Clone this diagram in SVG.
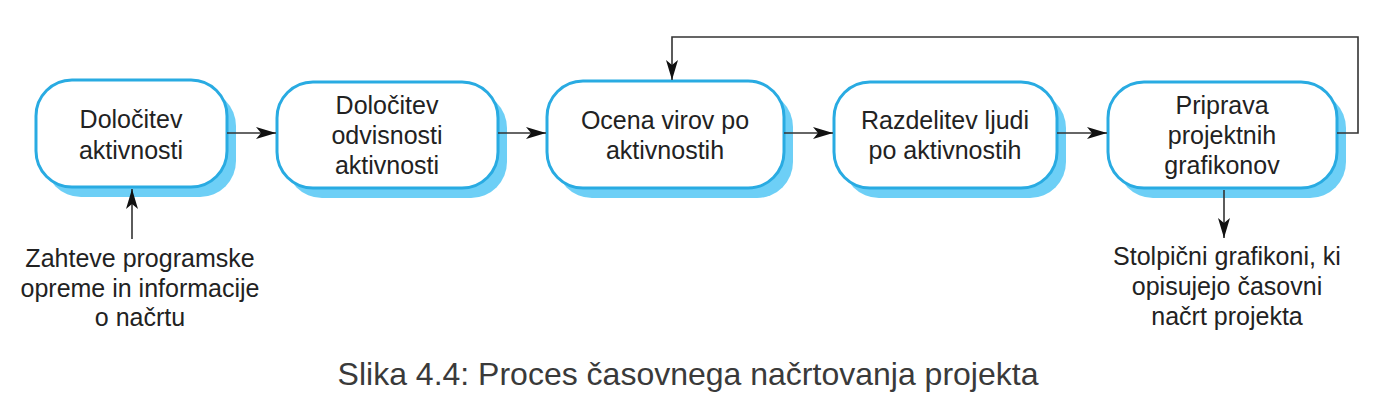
<svg xmlns="http://www.w3.org/2000/svg" width="1391" height="413" viewBox="0 0 1391 413">
<style>
.box{fill:#fff;stroke:#29abe2;stroke-width:3}
.sh{fill:#6dcff6}
.t{font-family:"Liberation Sans",Arial,sans-serif;font-size:25px;fill:#222;text-anchor:middle}
.c{fill:none;stroke:#333;stroke-width:1.6}
.cap{font-family:"Liberation Sans",Arial,sans-serif;font-size:32px;fill:#3a3a3a;text-anchor:middle}
</style>
<defs>
<marker id="ah" viewBox="0 0 20 12" refX="20" refY="6" markerWidth="20" markerHeight="12" markerUnits="userSpaceOnUse" orient="auto">
<path d="M0,0 L20,6 L0,12 L5,6 Z" fill="#111"/>
</marker>
</defs>
<g id="n1">
<rect class="sh" x="45" y="90" width="191" height="107" rx="36"/>
<rect class="box" x="36" y="80" width="191" height="107" rx="36"/>
<text class="t" x="131" y="128">Določitev</text>
<text class="t" x="131" y="159">aktivnosti</text>
</g>
<g id="n2">
<rect class="sh" x="286" y="92" width="221" height="106" rx="36"/>
<rect class="box" x="277" y="82" width="221" height="106" rx="36"/>
<text class="t" x="387" y="114">Določitev</text>
<text class="t" x="387" y="144">odvisnosti</text>
<text class="t" x="387" y="174">aktivnosti</text>
</g>
<g id="n3">
<rect class="sh" x="556" y="91" width="237" height="107" rx="36"/>
<rect class="box" x="547" y="81" width="237" height="107" rx="36"/>
<text class="t" x="665" y="129">Ocena virov po</text>
<text class="t" x="665" y="159">aktivnostih</text>
</g>
<g id="n4">
<rect class="sh" x="843" y="92" width="223" height="106" rx="36"/>
<rect class="box" x="834" y="82" width="223" height="106" rx="36"/>
<text class="t" x="945" y="129">Razdelitev ljudi</text>
<text class="t" x="945" y="159">po aktivnostih</text>
</g>
<g id="n5">
<rect class="sh" x="1117" y="92" width="229" height="106" rx="36"/>
<rect class="box" x="1108" y="82" width="229" height="106" rx="36"/>
<text class="t" x="1222" y="114">Priprava</text>
<text class="t" x="1222" y="144">projektnih</text>
<text class="t" x="1222" y="174">grafikonov</text>
</g>
<g id="in">
<text class="t" x="140" y="267">Zahteve programske</text>
<text class="t" x="140" y="297">opreme in informacije</text>
<text class="t" x="140" y="326">o načrtu</text>
</g>
<g id="out">
<text class="t" x="1227" y="265">Stolpični grafikoni, ki</text>
<text class="t" x="1227" y="295">opisujejo časovni</text>
<text class="t" x="1227" y="325">načrt projekta</text>
</g>
<g id="connectors">
<path class="c" marker-end="url(#ah)" d="M227,133 H276"/>
<path class="c" marker-end="url(#ah)" d="M498,133 H546"/>
<path class="c" marker-end="url(#ah)" d="M784,133 H833"/>
<path class="c" marker-end="url(#ah)" d="M1057,133 H1107"/>
<path class="c" marker-end="url(#ah)" d="M1337,133 H1358 V37 H672 V80"/>
<path class="c" marker-end="url(#ah)" d="M132,239 V189"/>
<path class="c" marker-end="url(#ah)" d="M1224,190 V238"/>
</g>
<text class="cap" x="688" y="385">Slika 4.4: Proces časovnega načrtovanja projekta</text>
</svg>
